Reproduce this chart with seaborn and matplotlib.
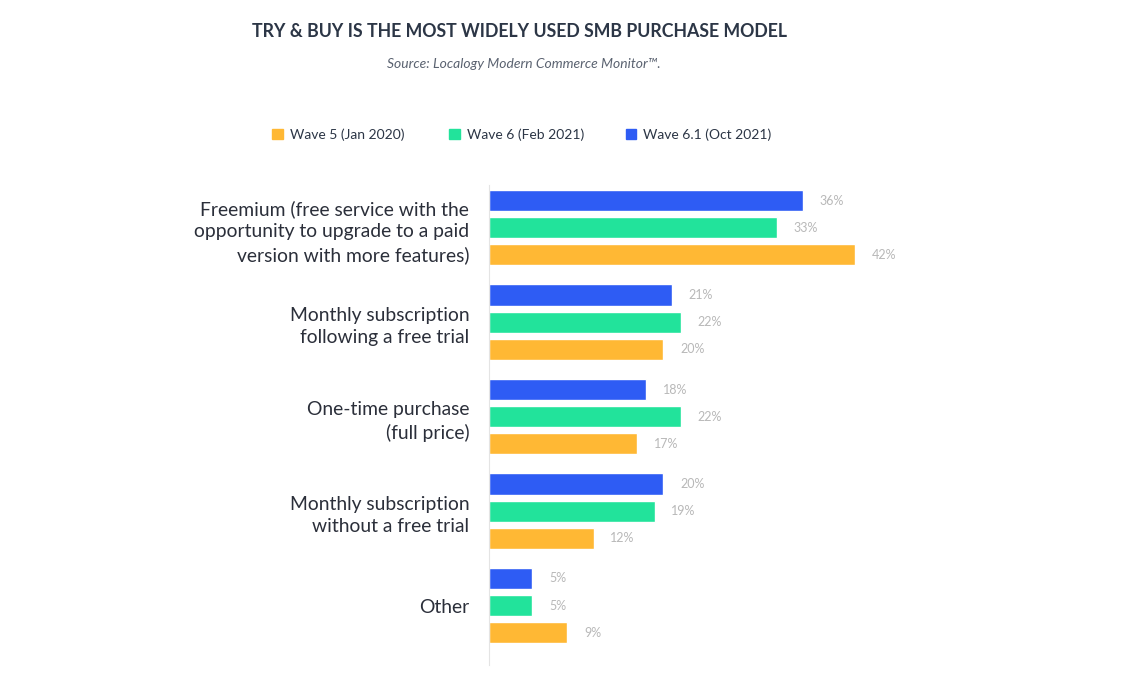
import matplotlib
matplotlib.use("Agg")
import matplotlib.pyplot as plt
import seaborn as sns
import pandas as pd
from matplotlib.patches import Patch

# donnees (en %)
categories = [
    "Freemium (free service with the\nopportunity to upgrade to a paid\nversion with more features)",
    "Monthly subscription\nfollowing a free trial",
    "One-time purchase\n(full price)",
    "Monthly subscription\nwithout a free trial",
    "Other",
]
waves = ["Wave 5 (Jan 2020)", "Wave 6 (Feb 2021)", "Wave 6.1 (Oct 2021)"]
wave5 = [42, 20, 17, 12, 9]
wave6 = [33, 22, 22, 19, 5]
wave61 = [36, 21, 18, 20, 5]
colors = {"Wave 5 (Jan 2020)": "#ffb834",
          "Wave 6 (Feb 2021)": "#22e39b",
          "Wave 6.1 (Oct 2021)": "#2e5cf4"}

rows = []
for w, vals in zip(waves, [wave5, wave6, wave61]):
    for c, v in zip(categories, vals):
        rows.append({"cat": c, "wave": w, "val": v})
df = pd.DataFrame(rows)

sns.set_style("white")
plt.rcParams['font.family'] = ['Lato', 'DejaVu Sans']

fig = plt.figure(figsize=(11.34, 6.78), dpi=100)
ax = fig.add_axes([0.431, 0.019, 0.385, 0.708])

# ordre des barres : bleu en haut, orange en bas
hue_order = waves[::-1]
sns.barplot(data=df, y="cat", x="val", hue="wave", hue_order=hue_order,
            order=categories, palette=colors, orient="h",
            width=0.86, gap=0.22, legend=False, ax=ax, saturation=1)

for cont in ax.containers:
    ax.bar_label(cont, labels=[f"{int(v)}%" for v in cont.datavalues],
                 padding=12, color="#b8b8b8", fontsize=9)

ax.set_xlim(0, 50)
ax.set_ylim(4.63, -0.45)
ax.set_xlabel("")
ax.set_ylabel("")
ax.set_xticks([])
for s in ["top", "right", "bottom"]:
    ax.spines[s].set_visible(False)
ax.spines["left"].set_color("#e4e4e4")
ax.tick_params(axis="y", length=0, pad=14, labelsize=13.9, labelcolor="#2b2f3a")
for lab in ax.get_yticklabels():
    lab.set_linespacing(1.4)

fig.text(0.458, 0.953, "TRY & BUY IS THE MOST WIDELY USED SMB PURCHASE MODEL",
         ha="center", va="center", fontsize=12.8, fontweight="bold", color="#2c3646")
fig.text(0.462, 0.905, "Source: Localogy Modern Commerce Monitor\u2122.",
         ha="center", va="center", fontsize=10, style="italic", color="#5a6270")

# legende : trois colonnes de largeur fixe
for w, x0 in zip(waves, [0.2401, 0.3961, 0.5521]):
    leg = fig.legend([Patch(color=colors[w])], [w], loc="center left",
                     bbox_to_anchor=(x0, 0.802), frameon=False, fontsize=10,
                     handlelength=0.75, handleheight=0.75, handletextpad=0.5,
                     borderpad=0, borderaxespad=0)
    for t in leg.get_texts():
        t.set_color("#2c3646")

fig.savefig("out.png", dpi=100)
